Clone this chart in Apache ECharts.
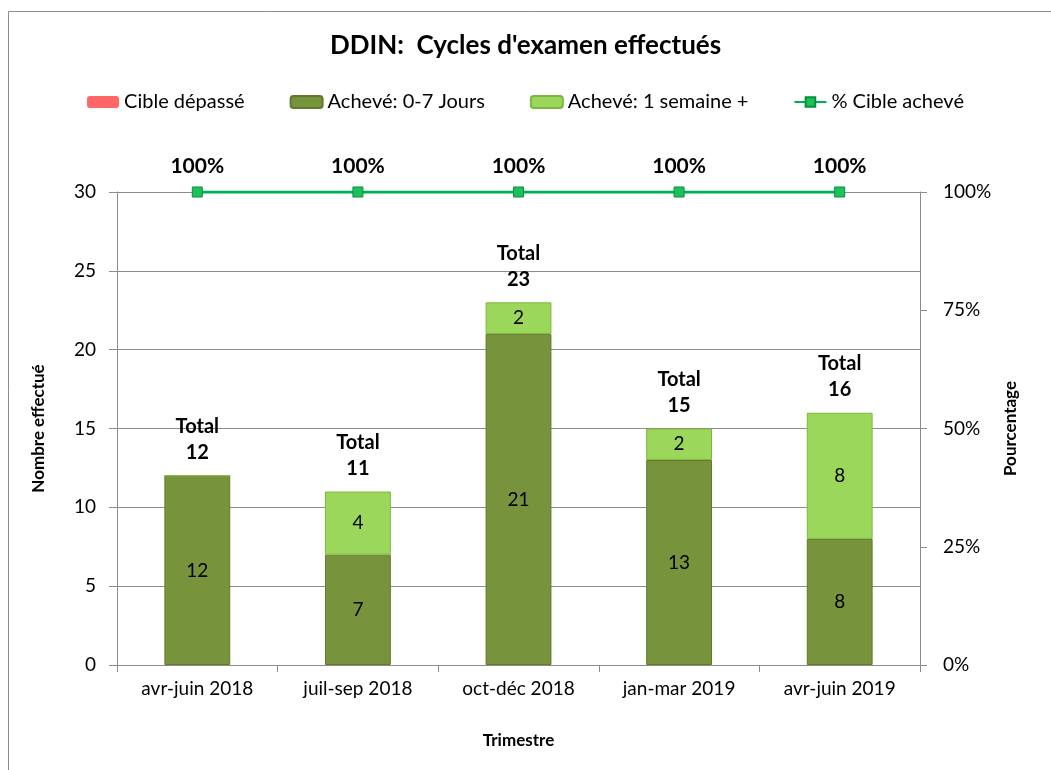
<!DOCTYPE html>
<html>
<head>
<meta charset="utf-8">
<script src="https://cdn.jsdelivr.net/npm/echarts@6/dist/echarts.min.js"></script>
<style>
  html, body { margin: 0; padding: 0; background: #fff; }
  #chart { width: 1051px; height: 770px; }
</style>
</head>
<body>
<div id="chart"></div>
<script>
var quarters = ['avr-juin 2018', 'juil-sep 2018', 'oct-déc 2018', 'jan-mar 2019', 'avr-juin 2019'];
var fast = [12, 7, 21, 13, 8];          // Achevé: 0-7 Jours
var slow = [0, 4, 2, 2, 8];             // Achevé: 1 semaine +
var overdue = [0, 0, 0, 0, 0];          // Cible dépassé
var pctAchieved = [100, 100, 100, 100, 100];
var leftTicks = [0, 5, 10, 15, 20, 25, 30];
var rightTicks = [0, 25, 50, 75, 100];

var totals = fast.map(function (v, i) { return v + slow[i] + overdue[i]; });
var font = 'Lato, "Liberation Sans", sans-serif';

try {
    var chart = echarts.init(document.getElementById('chart'));
    var option = {
        textStyle: { fontFamily: font },
        graphic: [{
            type: 'rect',
            shape: { x: 8.5, y: 11.5, width: 1200, height: 900 },
            style: { fill: 'none', stroke: '#8c8c8c', lineWidth: 1 },
            silent: true
        }],
        title: {
            text: "DDIN:  Cycles d'examen effectués",
            left: 'center',
            top: 28,
            textStyle: { fontFamily: font, fontSize: 26, fontWeight: 'bold', color: '#000' }
        },
        legend: {
            top: 87,
            left: 'center',
            itemGap: 45,
            itemWidth: 32,
            itemHeight: 12,
            textStyle: { fontFamily: font, fontSize: 20, color: '#000' },
            data: ['Cible dépassé', 'Achevé: 0-7 Jours', 'Achevé: 1 semaine +', '% Cible achevé']
        },
        grid: { left: 117, right: 131, top: 192, bottom: 105 },
        xAxis: {
            type: 'category',
            data: quarters,
            name: 'Trimestre',
            nameLocation: 'middle',
            nameGap: 67,
            nameTextStyle: { fontFamily: font, fontSize: 17, fontWeight: 'bold', color: '#000' },
            axisLine: { lineStyle: { color: '#8c8c8c' } },
            axisTick: { show: true, length: 7, lineStyle: { color: '#8c8c8c' } },
            axisLabel: { fontSize: 19, color: '#000', margin: 14 }
        },
        yAxis: [{
            type: 'value',
            min: leftTicks[0],
            max: leftTicks[leftTicks.length - 1],
            interval: 5,
            name: 'Nombre effectué',
            nameLocation: 'middle',
            nameGap: 70,
            nameRotate: 90,
            nameTextStyle: { fontFamily: font, fontSize: 17, fontWeight: 'bold', color: '#000' },
            axisLine: { show: true, lineStyle: { color: '#8c8c8c' } },
            axisTick: { show: true, length: 8, lineStyle: { color: '#8c8c8c' } },
            axisLabel: { fontSize: 19, color: '#000', margin: 21 },
            splitLine: { lineStyle: { color: '#8c8c8c' } }
        }, {
            type: 'value',
            min: rightTicks[0],
            max: rightTicks[rightTicks.length - 1],
            interval: 25,
            name: 'Pourcentage',
            nameLocation: 'middle',
            nameGap: 81,
            nameRotate: 90,
            nameTextStyle: { fontFamily: font, fontSize: 17, fontWeight: 'bold', color: '#000' },
            axisLine: { show: true, lineStyle: { color: '#8c8c8c' } },
            axisTick: { show: true, length: 7, lineStyle: { color: '#8c8c8c' } },
            axisLabel: { fontSize: 19, color: '#000', margin: 23, formatter: '{value}%' },
            splitLine: { show: false }
        }],
        series: [{
            name: 'Achevé: 0-7 Jours',
            type: 'bar',
            stack: 'done',
            barWidth: '41%',
            data: fast,
            itemStyle: { color: '#77933c', borderColor: '#5f7a2c', borderWidth: 1 },
            label: { show: true, position: 'inside', fontSize: 19, color: '#000' }
        }, {
            name: 'Achevé: 1 semaine +',
            type: 'bar',
            stack: 'done',
            data: slow,
            itemStyle: { color: '#9bd75a', borderColor: '#7fb63f', borderWidth: 1 },
            label: {
                show: true, position: 'inside', fontSize: 19, color: '#000',
                formatter: function (p) { return p.value ? p.value : ''; }
            }
        }, {
            name: 'Cible dépassé',
            type: 'bar',
            stack: 'done',
            data: overdue,
            itemStyle: { color: '#ff6666' },
            label: {
                show: true, position: 'top', distance: 10,
                fontSize: 20, fontWeight: 'bold', color: '#000', lineHeight: 26,
                formatter: function (p) { return 'Total\n' + totals[p.dataIndex]; }
            }
        }, {
            name: '% Cible achevé',
            type: 'line',
            yAxisIndex: 1,
            data: pctAchieved,
            symbol: 'rect',
            symbolSize: 10,
            itemStyle: { color: '#1fbf5a', borderColor: '#00913f', borderWidth: 1 },
            lineStyle: { color: '#00b050', width: 3 },
            label: {
                show: true, position: 'top', distance: 10,
                fontSize: 21, fontWeight: 'bold', color: '#000',
                formatter: '{c}%'
            },
            z: 5
        }]
    };
    chart.setOption(option);
} catch (error) {
    console.error('Failed to draw chart');
    console.error(error);
}
</script>
</body>
</html>
